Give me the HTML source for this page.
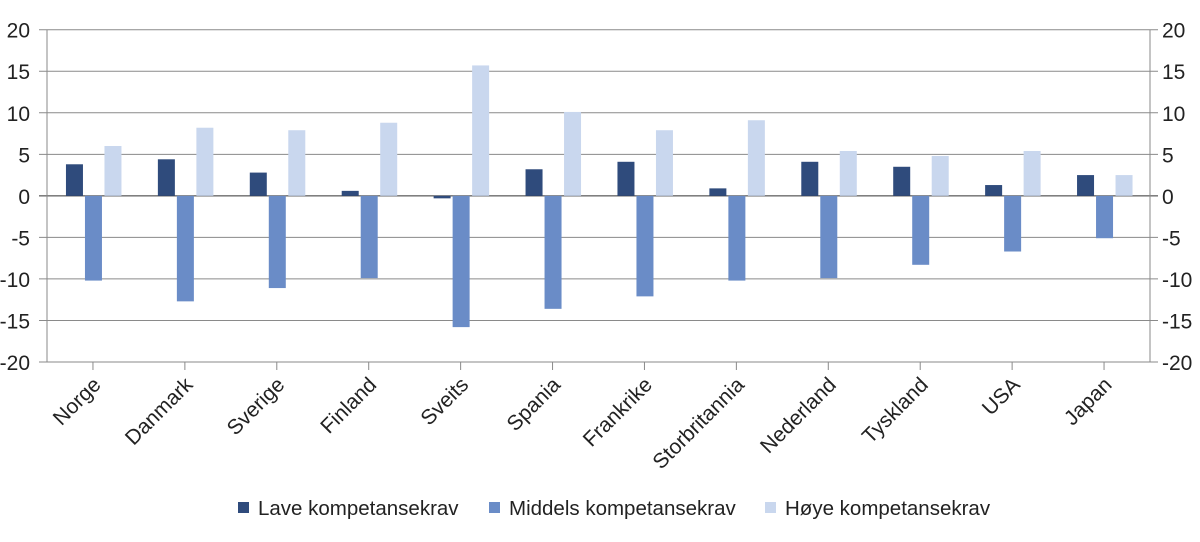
<!DOCTYPE html>
<html><head><meta charset="utf-8"><style>
body{margin:0;background:#fff;}
svg text{font-family:"Liberation Sans",Arial,sans-serif;fill:#222;}
</style></head><body>
<svg id="chart" width="1200" height="537"></svg>
<script>
const categories=["Norge","Danmark","Sverige","Finland","Sveits","Spania","Frankrike","Storbritannia","Nederland","Tyskland","USA","Japan"];
const lave=[3.8,4.4,2.8,0.6,-0.3,3.2,4.1,0.9,4.1,3.5,1.3,2.5];
const middels=[-10.2,-12.7,-11.1,-9.9,-15.8,-13.6,-12.1,-10.2,-9.9,-8.3,-6.7,-5.1];
const hoye=[6.0,8.2,7.9,8.8,15.7,10.1,7.9,9.1,5.4,4.8,5.4,2.5];
const ticks=[20,15,10,5,0,-5,-10,-15,-20];
const seriesNames=["Lave kompetansekrav","Middels kompetansekrav","Høye kompetansekrav"];
const colors=["#2f4b7c","#6a8cc7","#c9d7ee"];
const NS="http://www.w3.org/2000/svg";
const svg=document.getElementById('chart');
const X0=47,X1=1150,Y0=29.7,Y1=362;
const y=v=>Y0+(20-v)/40*(Y1-Y0);
const cw=(X1-X0)/categories.length;
const cx=i=>X0+cw*(i+0.5);
function mk(t,a,p){const e=document.createElementNS(NS,t);for(const k in a)e.setAttribute(k,a[k]);(p||svg).appendChild(e);return e;}
ticks.forEach(t=>{
 const g=mk('line',{x1:X0-8,x2:X1+8,y1:y(t),y2:y(t),stroke:t===0?'#333':'#8a8a8a','stroke-width':1});
 
 
 const l=mk('text',{x:30,y:y(t)+8,'text-anchor':'end','font-size':21});
 l.textContent=t;
 
 
 const r=mk('text',{x:1162,y:y(t)+8,'text-anchor':'start','font-size':21});
 r.textContent=t;
 
 
});
mk('line',{x1:X0,x2:X0,y1:Y0,y2:Y1,stroke:'#8a8a8a'});
mk('line',{x1:X1,x2:X1,y1:Y0,y2:Y1,stroke:'#8a8a8a'});
const data=[lave,middels,hoye];
const offs=[-18.5,0.5,20],bw=17;
categories.forEach((c,i)=>{
 const tk=mk('line',{x1:cx(i),x2:cx(i),y1:Y1,y2:Y1+8,stroke:'#8a8a8a'});
 
 
 data.forEach((s,k)=>{
  const v=s[i];
  const r=mk('rect',{x:cx(i)+offs[k]-bw/2,y:Math.min(y(v),y(0)),width:bw,height:Math.abs(y(v)-y(0)),fill:colors[k]});
  
  
 });
 const t=mk('text',{x:cx(i)+9,y:Y1+24,'text-anchor':'end','font-size':21,transform:`rotate(-45 ${cx(i)+9} ${Y1+24})`});
 t.textContent=c;
 
 
});
const lx=[238,489,765];
seriesNames.forEach((n,k)=>{
 const g=mk('g',{});
 
 
 mk('rect',{x:lx[k],y:502,width:11,height:11,fill:colors[k]},g);
 const t=mk('text',{x:lx[k]+20,y:515,'font-size':20.5},g);
 t.textContent=n;
});
</script>
</body></html>
